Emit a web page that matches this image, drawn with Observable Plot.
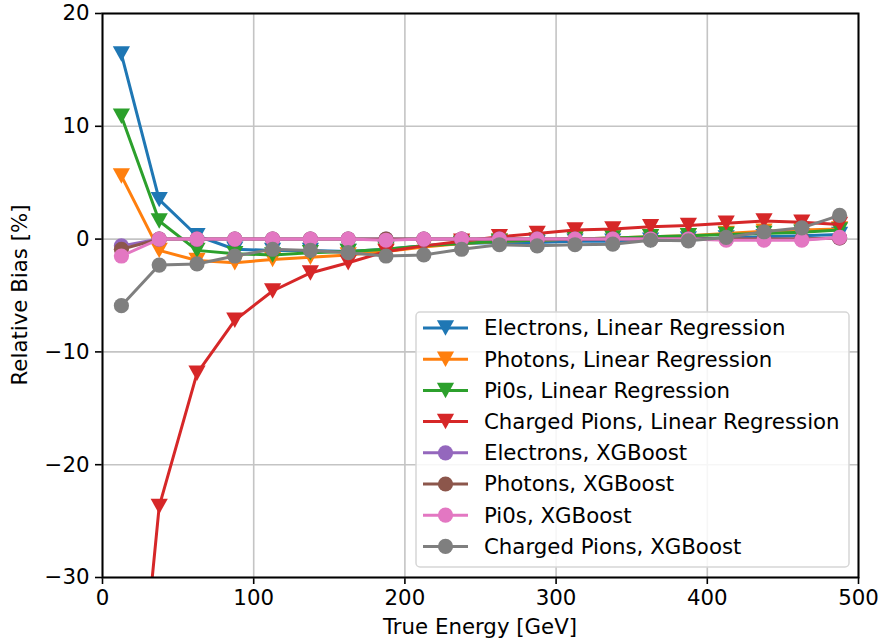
<!DOCTYPE html>
<html>
<head>
<meta charset="utf-8">
<script src="https://cdn.jsdelivr.net/npm/d3@7"></script>
<script src="https://cdn.jsdelivr.net/npm/@observablehq/plot@0.6"></script>
<style>
  html, body { margin: 0; padding: 0; background: #fff; }
  #chart { width: 882px; height: 641px; }
</style>
</head>
<body>
<div id="chart"></div>
<script>
const energies = [12.5, 37.5, 62.5, 87.5, 112.5, 137.5, 162.5, 187.5, 212.5, 237.5, 262.5, 287.5, 312.5, 337.5, 362.5, 387.5, 412.5, 437.5, 462.5, 487.5];

const electronsLR = [16.4, 3.5, 0.3, -0.9, -1.0, -1.0, -1.1, -0.9, -0.6, -0.4, -0.3, -0.3, -0.2, -0.2, -0.1, 0.0, 0.1, 0.2, 0.3, 0.4];
const photonsLR   = [5.6, -1.0, -1.9, -2.1, -1.8, -1.6, -1.4, -1.1, -0.7, -0.4, -0.2, -0.1, 0.0, 0.1, 0.2, 0.3, 0.5, 0.7, 0.8, 0.9];
const pi0sLR      = [10.9, 1.6, -1.0, -1.3, -1.4, -1.2, -1.1, -0.9, -0.6, -0.4, -0.2, -0.1, 0.0, 0.1, 0.2, 0.3, 0.4, 0.5, 0.6, 0.8];
const pionsLR     = [-58, -23.7, -11.9, -7.2, -4.6, -3.0, -2.1, -1.1, -0.6, -0.2, 0.2, 0.5, 0.8, 0.9, 1.1, 1.2, 1.4, 1.6, 1.5, 1.3];
const electronsXGB = [-0.6, 0.0, 0.0, 0.0, 0.0, 0.0, 0.0, 0.0, 0.0, 0.0, 0.0, 0.0, 0.0, 0.0, 0.0, 0.0, 0.0, 0.0, 0.0, 0.1];
const photonsXGB   = [-0.9, 0.0, 0.0, 0.0, 0.0, 0.0, 0.0, 0.0, 0.0, 0.0, 0.0, 0.0, 0.0, 0.0, 0.0, 0.0, 0.0, 0.0, 0.0, 0.1];
const pi0sXGB      = [-1.5, 0.0, 0.0, 0.0, 0.0, 0.0, 0.0, -0.1, 0.0, 0.0, 0.0, 0.0, 0.0, 0.0, 0.0, 0.0, -0.1, -0.1, -0.1, 0.15];
const pionsXGB     = [-5.9, -2.3, -2.2, -1.5, -0.9, -1.0, -1.2, -1.5, -1.4, -0.9, -0.5, -0.6, -0.5, -0.45, -0.1, -0.15, 0.15, 0.65, 1.0, 2.1];

const seriesNames = [
  "Electrons, Linear Regression",
  "Photons, Linear Regression",
  "Pi0s, Linear Regression",
  "Charged Pions, Linear Regression",
  "Electrons, XGBoost",
  "Photons, XGBoost",
  "Pi0s, XGBoost",
  "Charged Pions, XGBoost"
];
const seriesValues = [electronsLR, photonsLR, pi0sLR, pionsLR, electronsXGB, photonsXGB, pi0sXGB, pionsXGB];
const seriesColors = ["#1f77b4", "#ff7f0e", "#2ca02c", "#d62728", "#9467bd", "#8c564b", "#e377c2", "#7f7f7f"];
const seriesMarkers = ["down", "down", "down", "down", "circle", "circle", "circle", "circle"];

const xTicks = [0, 100, 200, 300, 400, 500];
const yTicks = [-30, -20, -10, 0, 10, 20];
const xLabel = "True Energy [GeV]";
const yLabel = "Relative Bias [%]";

const FONT = 21.3;
const TRI_R = 8.6;
const CIRC_R = 7.6;
const LINE_W = 3;

const triangleDown = {
  draw(ctx, size) {
    const r = Math.sqrt(size / Math.PI);
    ctx.moveTo(0, r * 0.9);
    ctx.lineTo(-r, -r * 0.9);
    ctx.lineTo(r, -r * 0.9);
    ctx.closePath();
  }
};

const marks = [
  Plot.ruleX(xTicks, {stroke: "#c4c4c4", strokeWidth: 1.6}),
  Plot.ruleY(yTicks, {stroke: "#c4c4c4", strokeWidth: 1.6})
];

seriesNames.forEach((name, i) => {
  const rows = energies.map((e, j) => ({energy: e, bias: seriesValues[i][j]}));
  marks.push(Plot.line(rows, {x: "energy", y: "bias", stroke: seriesColors[i], strokeWidth: LINE_W, clip: true}));
  marks.push(Plot.dot(rows, {
    x: "energy", y: "bias",
    symbol: seriesMarkers[i] === "down" ? triangleDown : "circle",
    r: seriesMarkers[i] === "down" ? TRI_R : CIRC_R,
    fill: seriesColors[i], stroke: "none", clip: true
  }));
});

marks.push(Plot.frame({stroke: "black", strokeWidth: 2}));

const chart = Plot.plot({
  width: 882,
  height: 641,
  marginLeft: 102,
  marginRight: 24,
  marginTop: 13,
  marginBottom: 64,
  style: {fontFamily: "DejaVu Sans", fontSize: FONT + "px", color: "black", background: "white"},
  x: {domain: [0, 500], ticks: xTicks, tickSize: 7, tickPadding: 5, label: null},
  y: {domain: [-30, 20], ticks: yTicks, tickSize: 7, tickPadding: 6, label: null},
  marks
});

document.getElementById("chart").appendChild(chart);

const svg = d3.select(chart);
svg.selectAll("[aria-label='x-axis tick'], [aria-label='y-axis tick']").attr("stroke-width", 1.6);

// axis titles
svg.append("text")
  .attr("x", 480).attr("y", 634)
  .attr("text-anchor", "middle")
  .attr("font-size", FONT)
  .attr("fill", "black")
  .text(xLabel);
svg.append("text")
  .attr("transform", "translate(27,295) rotate(-90)")
  .attr("text-anchor", "middle")
  .attr("font-size", FONT)
  .attr("fill", "black")
  .text(yLabel);

// legend
const lg = svg.append("g").attr("text-anchor", "start");
lg.append("rect")
  .attr("x", 416).attr("y", 312).attr("width", 433).attr("height", 255)
  .attr("rx", 4).attr("fill", "white").attr("fill-opacity", 0.85)
  .attr("stroke", "#d6d6d6").attr("stroke-width", 1.5);
seriesNames.forEach((name, i) => {
  const yy = 328 + i * 31.2;
  lg.append("line")
    .attr("x1", 423).attr("x2", 468).attr("y1", yy).attr("y2", yy)
    .attr("stroke", seriesColors[i]).attr("stroke-width", LINE_W);
  if (seriesMarkers[i] === "down") {
    const r = TRI_R;
    lg.append("path")
      .attr("d", `M${445.5},${yy + r * 0.9}L${445.5 - r},${yy - r * 0.9}L${445.5 + r},${yy - r * 0.9}Z`)
      .attr("fill", seriesColors[i]);
  } else {
    lg.append("circle").attr("cx", 445.5).attr("cy", yy).attr("r", CIRC_R).attr("fill", seriesColors[i]);
  }
  lg.append("text")
    .attr("x", 484).attr("y", yy)
    .attr("dy", "0.35em")
    .attr("text-anchor", "start")
    .attr("font-size", FONT)
    .attr("fill", "black")
    .text(name);
});
</script>
</body>
</html>
